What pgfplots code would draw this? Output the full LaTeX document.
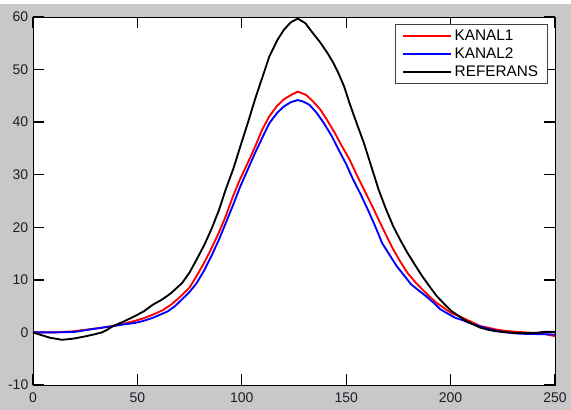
\documentclass[border=0pt]{standalone}
\usepackage{pgfplots}
\pgfplotsset{compat=1.18}
\usepackage{fontspec}
\setmainfont{Liberation Sans}
\definecolor{figbg}{RGB}{200,200,200}
\definecolor{txt}{RGB}{30,30,40}
\begin{document}
\begin{tikzpicture}
% figure background (1px = 0.75pt)
\fill[figbg] (-24.75pt,-18.75pt) rectangle (403.5pt,285.75pt);
\fill[white] (-24.75pt,285.75pt) rectangle (403.5pt,288.75pt);
\useasboundingbox (-24.75pt,-18.75pt) rectangle (403.5pt,288.75pt);
\begin{axis}[
    scale only axis,
    width=391.5pt, height=276pt,
    xmin=0, xmax=250, ymin=-10, ymax=60,
    xtick={0,50,...,250}, ytick={-10,0,...,60},
    tick align=inside,
    major tick length=8pt,
    axis background/.style={fill=white},
    axis line style={line width=0.7pt},
    major tick style={black, line width=1pt},
    tick label style={font=\fontsize{10.5}{12}\selectfont, text=txt},
    /pgf/number format/assume math mode=true,
    xticklabel style={yshift=-2pt},
    legend style={at={(0.9866,0.981)}, anchor=north east,
        draw=black!75, line width=0.7pt, fill=white,
        font=\fontsize{11.5}{15.4}\selectfont,
        inner xsep=5pt, inner ysep=2pt, cells={anchor=west}},
    legend image code/.code={\draw[#1] (0pt,0pt) -- (36pt,0pt);},
]
\addplot[red, line width=1.4pt] coordinates {
    (0,0) (10,0) (19,0.2) (27,0.6) (33,0.9) (38,1.2) (43,1.6) (48.8,2.2) (53,2.7)
    (57.5,3.4) (62,4.2) (66.2,5.3) (70,6.6) (74.9,8.5) (78,10.5) (81.9,13.2) (85,15.6)
    (88.9,18.9) (92,21.8) (95.8,25.9) (99,29.0) (102.8,32.2) (106,35.0) (109.8,38.6)
    (113,41.0) (116.7,43.0) (120,44.3) (123.7,45.2) (126.8,45.8) (130.7,45.2)
    (134,44.0) (137.6,42.4) (141,40.3) (144.6,37.9) (148,35.4) (151.6,32.9)
    (155,30.0) (158.5,27.2) (162,24.4) (165.5,21.5) (169,18.6) (172.5,15.8)
    (176,13.4) (179.4,11.3) (183,9.6) (186.4,8.2) (190,6.8) (193.4,5.6) (197,4.6)
    (200.3,3.7) (204,3.1) (207.3,2.5) (211,1.8) (214.3,1.2) (218,0.9) (221.3,0.6)
    (226,0.3) (231.7,0.1) (236,0) (240.4,-0.1) (245,-0.3) (250,-0.7)
};
\addlegendentry{KANAL1}
\addplot[blue, line width=1.4pt] coordinates {
    (0,0) (10,0) (20,0.1) (27.9,0.6) (33,0.9) (38.3,1.2) (43,1.5) (48.8,1.8) (53,2.2)
    (57.5,2.8) (61,3.4) (64.5,4.0) (68,5.0) (71.4,6.3) (75,7.7) (78.4,9.4) (82,11.8)
    (85.4,14.5) (89,17.6) (92.3,20.8) (96,24.4) (99.3,27.8) (103,31.1) (106.3,34.1)
    (110,37.2) (113.2,39.8) (117,41.8) (120.2,43.0) (123.5,43.8) (126.8,44.2)
    (129.5,43.9) (132.4,43.3) (136,41.7) (139.3,39.8) (143,37.4) (146.3,34.8)
    (150,32.0) (153.3,29.1) (157,26.2) (160.3,23.4) (164,20.1) (167.2,17.0)
    (171,14.6) (174.2,12.6) (178,10.7) (181.2,9.1) (185,7.9) (188.2,6.9) (192,5.6)
    (195.1,4.4) (199,3.5) (202.1,2.8) (206,2.3) (209.1,1.8) (213,1.3) (216,0.9)
    (220,0.5) (224.7,0.1) (229,-0.1) (233.4,-0.25) (240,-0.3) (250,-0.4)
};
\addlegendentry{KANAL2}
\addplot[black, line width=1.4pt] coordinates {
    (0,0) (4,-0.5) (8,-1.0) (13.9,-1.4) (19,-1.2) (24.4,-0.8) (29,-0.4) (33,0)
    (35.5,0.5) (38.3,1.2) (43,2.0) (48.8,3.1) (53,4.0) (57.5,5.3) (62,6.3) (66.2,7.5)
    (71.4,9.4) (75,11.4) (78.4,13.9) (82,16.6) (85.4,19.6) (89,23.2) (92.3,27.2)
    (96,31.2) (99.3,35.4) (103,40.0) (106.3,44.3) (110,48.7) (113.2,52.5)
    (117,55.6) (120.2,57.6) (123.5,59.0) (126.8,59.7) (130.5,58.8) (134.1,56.9)
    (137.5,55.2) (141.1,53.1) (143.8,51.3) (146.3,49.3) (149,46.8) (151.6,43.6)
    (155,39.8) (158.5,36.0) (162,31.6) (165.5,27.2) (169,23.5) (172.5,20.2)
    (176,17.5) (179.4,15.1) (183,12.8) (186.4,10.7) (190,8.7) (193.4,6.9)
    (197,5.4) (200.3,4.1) (204,3.1) (207.3,2.2) (211,1.5) (214.3,0.9) (218,0.5)
    (221.3,0.25) (226,0.05) (231.7,-0.1) (236,-0.15) (240.4,-0.1) (244.8,0.1) (250,0.1)
};
\addlegendentry{REFERANS}
\end{axis}
\end{tikzpicture}
\end{document}
